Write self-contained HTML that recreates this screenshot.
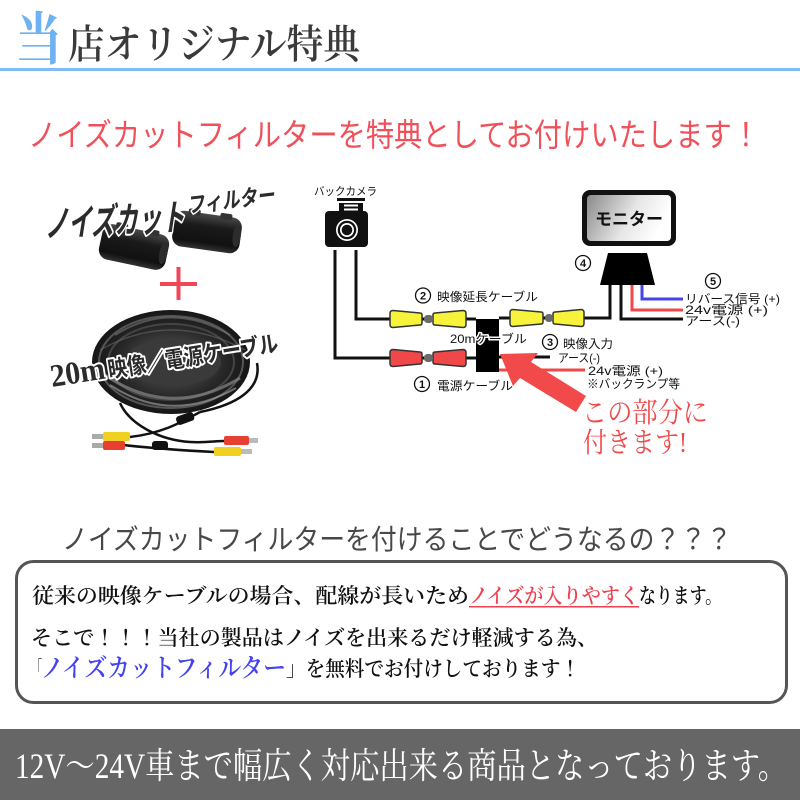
<!DOCTYPE html>
<html><head><meta charset="utf-8">
<style>
html,body{margin:0;padding:0;background:#fff;}
svg{display:block}
.s{font-family:"Liberation Sans","Noto Sans CJK JP",sans-serif;}
.m{font-family:"Liberation Serif","Noto Serif CJK JP",serif;}
</style></head><body>
<svg width="800" height="800" viewBox="0 0 800 800" xmlns="http://www.w3.org/2000/svg">
<defs>
  <linearGradient id="fer" x1="0" y1="0" x2="0" y2="1">
    <stop offset="0" stop-color="#4a4a4a"/>
    <stop offset="0.35" stop-color="#1a1a1a"/>
    <stop offset="0.8" stop-color="#111"/>
    <stop offset="1" stop-color="#333"/>
  </linearGradient>
  <linearGradient id="scr" x1="0" y1="0" x2="1" y2="0.3">
    <stop offset="0" stop-color="#8a8a8a"/>
    <stop offset="0.6" stop-color="#e6e6e6"/>
    <stop offset="1" stop-color="#ffffff"/>
  </linearGradient>
  <radialGradient id="coil" cx="0.5" cy="0.5" r="0.5">
    <stop offset="0.45" stop-color="#3a3a3a"/>
    <stop offset="0.7" stop-color="#262626"/>
    <stop offset="1" stop-color="#161616"/>
  </radialGradient>
</defs>
<rect width="800" height="800" fill="#fff"/>

<!-- Header -->
<text class="m" x="15" y="59" font-size="57" font-weight="bold" fill="#6fb2f2" textLength="47" lengthAdjust="spacingAndGlyphs">当</text>
<text class="m" x="68" y="58" font-size="40" font-weight="600" fill="#3a3a3a" textLength="292" lengthAdjust="spacingAndGlyphs">店オリジナル特典</text>
<rect x="0" y="68" width="800" height="3" fill="#80bbf2"/>

<!-- Red title -->
<text class="s" x="28" y="146" font-size="32" fill="#f0505a" textLength="732" lengthAdjust="spacingAndGlyphs">ノイズカットフィルターを特典としてお付けいたします！</text>

<!-- Left illustration: ferrite cores -->
<g transform="rotate(12 134 247)">
  <rect x="100" y="229" width="68" height="36" rx="10" fill="url(#fer)"/>
  <rect x="112" y="226" width="12" height="6" rx="2" fill="#333"/>
  <rect x="144" y="226" width="12" height="6" rx="2" fill="#333"/>
  <ellipse cx="164" cy="247" rx="4" ry="11" fill="#2c2c2c"/>
</g>
<g transform="rotate(8 207 232)">
  <rect x="173" y="214" width="68" height="36" rx="10" fill="url(#fer)"/>
  <rect x="186" y="211" width="12" height="6" rx="2" fill="#333"/>
  <rect x="218" y="211" width="12" height="6" rx="2" fill="#333"/>
  <ellipse cx="237" cy="232" rx="4" ry="11" fill="#2c2c2c"/>
</g>
<g transform="translate(45,237) rotate(-3) skewX(-12)">
  <text class="s" x="0" y="0" font-size="36" font-weight="bold" fill="#2b2b2b" stroke="#fff" stroke-width="4" stroke-linejoin="round" paint-order="stroke" textLength="140" lengthAdjust="spacingAndGlyphs">ノイズカット</text>
</g>
<g transform="translate(188,213) rotate(-7) skewX(-10)">
  <text class="s" x="0" y="0" font-size="22" font-weight="bold" fill="#2b2b2b" stroke="#fff" stroke-width="3" stroke-linejoin="round" paint-order="stroke" textLength="88" lengthAdjust="spacingAndGlyphs">フィルター</text>
</g>

<!-- Plus -->
<rect x="160" y="282" width="37" height="4" fill="#f04858"/>
<rect x="176.5" y="267" width="4" height="33" fill="#f04858"/>

<!-- Cable coil -->
<ellipse cx="171" cy="362" rx="79" ry="52" fill="url(#coil)"/>
<ellipse cx="171" cy="362" rx="72" ry="46" fill="none" stroke="#555" stroke-width="2"/>
<ellipse cx="171" cy="362" rx="63" ry="38" fill="none" stroke="#444" stroke-width="2"/>
<ellipse cx="173" cy="362" rx="48" ry="24" fill="#3a3a3a"/>
<path d="M105,375 Q171,420 240,378" fill="none" stroke="#888" stroke-width="3" opacity="0.7"/>
<path d="M110,385 Q171,425 236,388" fill="none" stroke="#aaa" stroke-width="2" opacity="0.6"/>
<path d="M115,335 Q171,300 230,335" fill="none" stroke="#777" stroke-width="2" opacity="0.6"/>
<path d="M100,350 Q171,310 245,350" fill="none" stroke="#666" stroke-width="1.5" opacity="0.6"/>
<!-- wires -->
<g fill="none" stroke="#111" stroke-width="2.5">
  <path d="M130,437 C165,433 185,420 200,412"/>
  <path d="M123,445 C150,448 175,450 214,452"/>
  <path d="M120,403 C130,425 160,440 190,442 C205,443 215,441 224,441"/>
  <path d="M257,363 C262,390 235,405 200,412"/>
</g>
<rect x="176" y="414" width="18" height="9" rx="3" fill="#111" transform="rotate(-20 185 418)"/>
<rect x="152" y="441" width="16" height="9" rx="3" fill="#111"/>
<!-- plugs -->
<rect x="92" y="434" width="11" height="5" fill="#aaa"/>
<rect x="103" y="432" width="27" height="9" rx="2" fill="#f0d020"/>
<rect x="92" y="443" width="11" height="5" fill="#aaa"/>
<rect x="103" y="441" width="22" height="9" rx="2" fill="#e84030"/>
<rect x="224" y="436" width="25" height="9" rx="2" fill="#e84030"/>
<rect x="249" y="438" width="9" height="5" fill="#bbb"/>
<rect x="214" y="447" width="27" height="9" rx="2" fill="#f0d020"/>
<rect x="241" y="449" width="11" height="5" fill="#bbb"/>
<!-- coil text -->
<g transform="translate(52,387) rotate(-9)">
  <text class="m" x="0" y="0" font-size="32" font-weight="bold" fill="#2b2b2b" stroke="#fff" stroke-width="4" stroke-linejoin="round" paint-order="stroke" textLength="55" lengthAdjust="spacingAndGlyphs">20m</text>
  <text class="s" x="58" y="0" font-size="23" font-weight="bold" fill="#2b2b2b" stroke="#fff" stroke-width="4" stroke-linejoin="round" paint-order="stroke" textLength="172" lengthAdjust="spacingAndGlyphs">映像／電源ケーブル</text>
</g>

<!-- Diagram: camera -->
<text class="s" x="314" y="195" font-size="11" fill="#111" textLength="63" lengthAdjust="spacingAndGlyphs">バックカメラ</text>
<rect x="337" y="198" width="28" height="3" fill="#111"/>
<rect x="339" y="203" width="24" height="9" fill="#111"/>
<rect x="344" y="204.5" width="14" height="2" fill="#fff"/>
<rect x="344" y="208.5" width="14" height="2" fill="#fff"/>
<rect x="325" y="211" width="43" height="36" rx="4" fill="#111"/>
<circle cx="347" cy="230" r="11" fill="#fff"/>
<circle cx="347" cy="230" r="9.3" fill="#111"/>
<circle cx="347" cy="230" r="7" fill="#fff"/>
<circle cx="347" cy="230" r="5.3" fill="#111"/>

<!-- wires -->
<g fill="none" stroke="#111" stroke-width="3">
  <path d="M335,250 V358 H476"/>
  <path d="M356,250 V319 H476"/>
  <path d="M499,318 H610 V285"/>
  <path d="M621,285 V319 H683"/>
  <path d="M499,357 H550"/>
</g>
<path d="M632,285 V310 H683" fill="none" stroke="#f04848" stroke-width="3"/>
<path d="M642,285 V299 H683" fill="none" stroke="#4444ee" stroke-width="3"/>
<path d="M499,370 H585" fill="none" stroke="#f04848" stroke-width="3"/>

<!-- connectors -->
<g stroke="#333" stroke-width="1.5">
  <path d="M393,310.5 L420,313 Q422,313 422,315 L422,323 Q422,325 420,325 L393,327.5 Q390,327.5 390,324.5 L390,313.5 Q390,310.5 393,310.5 Z" fill="#f7f23a"/>
  <path d="M435,313 L463,310.5 Q466,310.5 466,313.5 L466,324.5 Q466,327.5 463,327.5 L435,325 Q433,325 433,323 L433,315 Q433,313 435,313 Z" fill="#f7f23a"/>
  <path d="M513,309.5 L541,312 Q543,312 543,314 L543,322 Q543,324 541,324 L513,326.5 Q510,326.5 510,323.5 L510,312.5 Q510,309.5 513,309.5 Z" fill="#f7f23a"/>
  <path d="M555,312 L581,309.5 Q584,309.5 584,312.5 L584,323.5 Q584,326.5 581,326.5 L555,324 Q553,324 553,322 L553,314 Q553,312 555,312 Z" fill="#f7f23a"/>
  <path d="M393,349.5 L420,352 Q422,352 422,354 L422,362 Q422,364 420,364 L393,366.5 Q390,366.5 390,363.5 L390,352.5 Q390,349.5 393,349.5 Z" fill="#f04848"/>
  <path d="M435,352 L463,349.5 Q466,349.5 466,352.5 L466,363.5 Q466,366.5 463,366.5 L435,364 Q433,364 433,362 L433,354 Q433,352 435,352 Z" fill="#f04848"/>
</g>
<rect x="424" y="315" width="9" height="8" rx="3.5" fill="#6a6a6a"/>
<rect x="545" y="314" width="8" height="8" rx="3.5" fill="#6a6a6a"/>
<rect x="424" y="354" width="9" height="8" rx="3.5" fill="#6a6a6a"/>

<!-- junction box -->
<rect x="476" y="319" width="23" height="53" fill="#000"/>

<!-- monitor -->
<rect x="582" y="190" width="94" height="56" rx="8" fill="#111"/>
<rect x="587" y="195" width="84" height="46" rx="4" fill="url(#scr)"/>
<text class="s" x="629" y="225" font-size="17" font-weight="bold" fill="#111" text-anchor="middle" textLength="68" lengthAdjust="spacingAndGlyphs">モニター</text>
<polygon points="608,253 647,253 655,285 600,285" fill="#000"/>

<!-- circled numbers -->
<g class="s" font-size="11" font-weight="bold" fill="#111" text-anchor="middle">
  <circle cx="423" cy="295.5" r="7.5" fill="#fff" stroke="#111" stroke-width="1.3"/><text x="423" y="299.5">2</text>
  <circle cx="422" cy="384" r="7.5" fill="#fff" stroke="#111" stroke-width="1.3"/><text x="422" y="388">1</text>
  <circle cx="550" cy="342" r="7.5" fill="#fff" stroke="#111" stroke-width="1.3"/><text x="550" y="346">3</text>
  <circle cx="583" cy="263" r="7.5" fill="#fff" stroke="#111" stroke-width="1.3"/><text x="583" y="267">4</text>
  <circle cx="713" cy="281" r="7.5" fill="#fff" stroke="#111" stroke-width="1.3"/><text x="713" y="285">5</text>
</g>

<!-- diagram labels -->
<g class="s" font-size="12" fill="#111">
  <text x="437" y="301" textLength="101" lengthAdjust="spacingAndGlyphs">映像延長ケーブル</text>
  <text x="437" y="390" textLength="76" lengthAdjust="spacingAndGlyphs">電源ケーブル</text>
  <text x="563" y="348" textLength="50" lengthAdjust="spacingAndGlyphs">映像入力</text>
  <text x="558" y="362" textLength="42" lengthAdjust="spacingAndGlyphs">アース(-)</text>
  <text x="588" y="375" textLength="75" lengthAdjust="spacingAndGlyphs">24v電源 (+)</text>
  <text x="587" y="388" textLength="93" lengthAdjust="spacingAndGlyphs">※バックランプ等</text>
  <text x="685" y="303" textLength="95" lengthAdjust="spacingAndGlyphs">リバース信号 (+)</text>
  <text x="685" y="314" textLength="83" lengthAdjust="spacingAndGlyphs">24v電源 (+)</text>
  <text x="685" y="325" textLength="55" lengthAdjust="spacingAndGlyphs">アース(-)</text>
</g>
<text class="s" x="450" y="343" font-size="12" fill="#111" stroke="#fff" stroke-width="3" stroke-linejoin="round" paint-order="stroke" textLength="77" lengthAdjust="spacingAndGlyphs">20mケーブル</text>

<!-- red arrow -->
<polygon points="500,354 538,353 531,362 586,396 576,412 520,378 513,386" fill="#f24a4a"/>

<text class="m" x="582" y="422" font-size="28" fill="#f04a4a" textLength="126" lengthAdjust="spacingAndGlyphs">この部分に</text>
<text class="m" x="583" y="452" font-size="28" fill="#f04a4a" textLength="104" lengthAdjust="spacingAndGlyphs">付きます!</text>

<!-- bottom heading -->
<text class="s" x="62" y="549" font-size="28" fill="#484848" textLength="670" lengthAdjust="spacingAndGlyphs">ノイズカットフィルターを付けることでどうなるの？？？</text>

<!-- box -->
<rect x="16.5" y="561.5" width="770" height="141" rx="17" fill="#fff" stroke="#555" stroke-width="3"/>

<g class="m" font-size="21" font-weight="600" fill="#111">
  <text x="32" y="603" textLength="437" lengthAdjust="spacingAndGlyphs">従来の映像ケーブルの場合、配線が長いため</text>
  <text x="469" y="603" fill="#f04050" textLength="170" lengthAdjust="spacingAndGlyphs">ノイズが入りやすく</text>
  <text x="639" y="603" textLength="83" lengthAdjust="spacingAndGlyphs">なります。</text>
  <text x="31" y="645" textLength="567" lengthAdjust="spacingAndGlyphs">そこで！！！当社の製品はノイズを出来るだけ軽減する為、</text>
  <text x="32" y="676" textLength="10" lengthAdjust="spacingAndGlyphs">「</text>
  <text x="41" y="677" font-size="26" fill="#4444ee" textLength="245" lengthAdjust="spacingAndGlyphs">ノイズカットフィルター</text>
  <text x="286" y="676" textLength="294" lengthAdjust="spacingAndGlyphs">」を無料でお付けしております！</text>
</g>
<rect x="469" y="606" width="170" height="1.5" fill="#f04050"/>

<!-- banner -->
<rect x="0" y="729" width="800" height="71" fill="#666"/>
<text class="m" x="15" y="778" font-size="36" fill="#fff" textLength="772" lengthAdjust="spacingAndGlyphs">12V～24V車まで幅広く対応出来る商品となっております。</text>
</svg>
</body></html>
